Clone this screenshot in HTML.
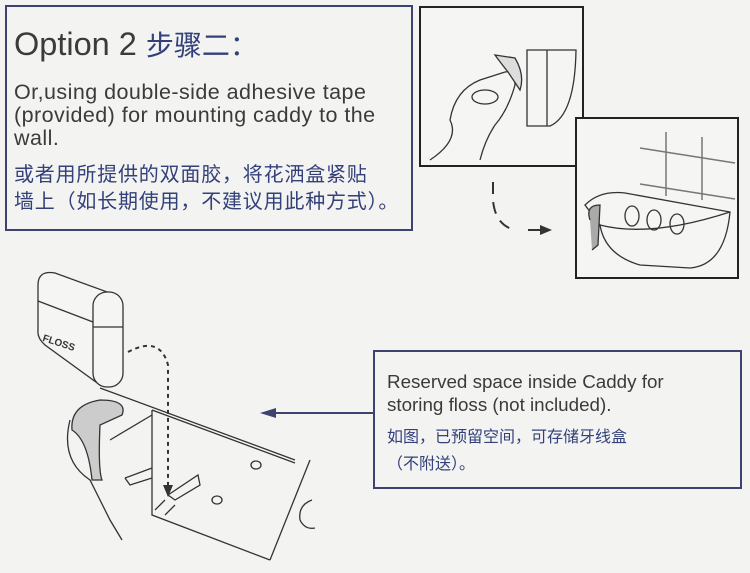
<!DOCTYPE html>
<html><head><meta charset="utf-8"><style>
body{margin:0;width:750px;height:573px;background:#f3f3f2;position:relative;overflow:hidden;font-family:"Liberation Sans","Noto Sans CJK SC",sans-serif}
.box{position:absolute;border:2px solid #3d4270;box-sizing:border-box}
.t{position:absolute;white-space:nowrap}
.en{color:#3b3b3b}
.cn{color:#33407a}
</style></head><body>
<div class="box" style="left:5px;top:5px;width:408px;height:226px"></div>
<div class="t en" style="left:14px;top:24px;font-size:32.5px">Option 2 <span class="cn" style="font-size:28px">步骤二：</span></div>
<div class="t en" style="left:14px;top:81px;font-size:21.5px;line-height:23px;letter-spacing:0.45px">Or,using double-side adhesive tape<br>(provided) for mounting caddy to the<br>wall.</div>
<div class="t cn" style="left:14px;top:162px;font-size:20px;line-height:27px;letter-spacing:0.8px">或者用所提供的双面胶，将花洒盒紧贴<br>墙上（如长期使用，不建议用此种方式）。</div>

<div class="box" style="left:373px;top:350px;width:369px;height:139px"></div>
<div class="t en" style="left:387px;top:370px;font-size:18.8px;line-height:23px">Reserved space inside Caddy for<br>storing floss (not included).</div>
<div class="t cn" style="left:387px;top:424px;font-size:16px;line-height:27px">如图，已预留空间，可存储牙线盒<br>（不附送）。</div>

<svg width="750" height="573" style="position:absolute;left:0;top:0" fill="none" stroke="#333" stroke-width="1.3">
<line x1="373" y1="413" x2="272" y2="413" stroke="#3d4270" stroke-width="2"/>
<polygon points="260,413 276,408 276,418" fill="#3d4270" stroke="none"/>
<rect x="420" y="7" width="163" height="159" fill="#f5f5f4" stroke="#222" stroke-width="2"/>
<path d="M527 50 L576 50 Q575 115 550 126 L527 126 Z"/>
<line x1="547" y1="50" x2="547" y2="126"/>
<path d="M430 160 Q460 140 450 120 Q455 90 480 80 L505 72 Q515 70 515 85 Q508 110 495 125 Q485 140 480 160"/>
<path d="M495 55 L515 58 Q525 75 520 90 L508 72 Q500 62 495 55Z" fill="#ddd"/>
<ellipse cx="485" cy="97" rx="13" ry="7"/>
<path d="M493 182 L493 200 Q495 225 515 230" stroke-dasharray="12 8" stroke-width="2"/>
<path d="M528 230 L542 230" stroke-width="2"/><polygon points="552,230 540,225 540,235" fill="#333" stroke="none"/>
<rect x="576" y="118" width="162" height="160" fill="#f5f5f4" stroke="#222" stroke-width="2"/>
<g stroke="#777" stroke-width="1.5"><line x1="640" y1="148" x2="735" y2="163"/><line x1="640" y1="184" x2="735" y2="199"/><line x1="666" y1="132" x2="666" y2="196"/><line x1="702" y1="137" x2="702" y2="200"/></g>
<path d="M585 205 Q600 190 625 193 L730 212 Q725 265 690 268 L640 265 Q605 255 600 225 Z" fill="#f5f5f4"/>
<path d="M600 225 Q650 238 730 212"/>
<ellipse cx="632" cy="216" rx="7" ry="10"/><ellipse cx="654" cy="220" rx="7" ry="10"/><ellipse cx="677" cy="224" rx="7" ry="10"/>
<path d="M590 220 Q585 205 600 205 L598 245 L592 250" fill="#aaa"/>
<path d="M38 285 Q38 270 55 273 L110 293 L100 385 L45 345 Q37 338 38 330 Z" fill="#f5f5f4"/>
<rect x="93" y="292" width="30" height="95" rx="14" fill="#f5f5f4"/>
<line x1="38" y1="301" x2="93" y2="322"/><line x1="93" y1="327" x2="123" y2="327"/>
<line x1="100" y1="388" x2="295" y2="460"/><line x1="152" y1="410" x2="295" y2="463"/>
<path d="M152 410 L152 515 L270 560"/><line x1="270" y1="560" x2="310" y2="460"/>
<path d="M72 430 Q70 405 100 400 Q128 400 122 415 L100 425 Q98 470 102 480 L92 480 Q88 440 72 430Z" fill="#ccc"/>
<path d="M110 440 L152 415"/><path d="M70 420 Q60 460 90 480 L110 520 L122 540"/>
<path d="M125 478 L152 468 M125 478 L130 485 L152 478"/>
<path d="M168 495 L198 475 L200 485 L175 500 Z"/>
<path d="M128 352 Q160 335 168 365 L168 495" stroke-dasharray="4 4" stroke-width="2"/>
<polygon points="168,497 163,485 173,485" fill="#333" stroke="none"/>
<path d="M155 510 L165 500 M165 515 L175 505"/>
<ellipse cx="256" cy="465" rx="5" ry="4"/><ellipse cx="217" cy="500" rx="5" ry="4"/>
<path d="M312 500 Q298 505 300 520 Q305 530 315 528"/>
</svg>
<div class="t" style="left:42px;top:338px;font-size:10px;font-weight:bold;color:#333;transform:rotate(18deg)">FLOSS</div>
</body></html>
